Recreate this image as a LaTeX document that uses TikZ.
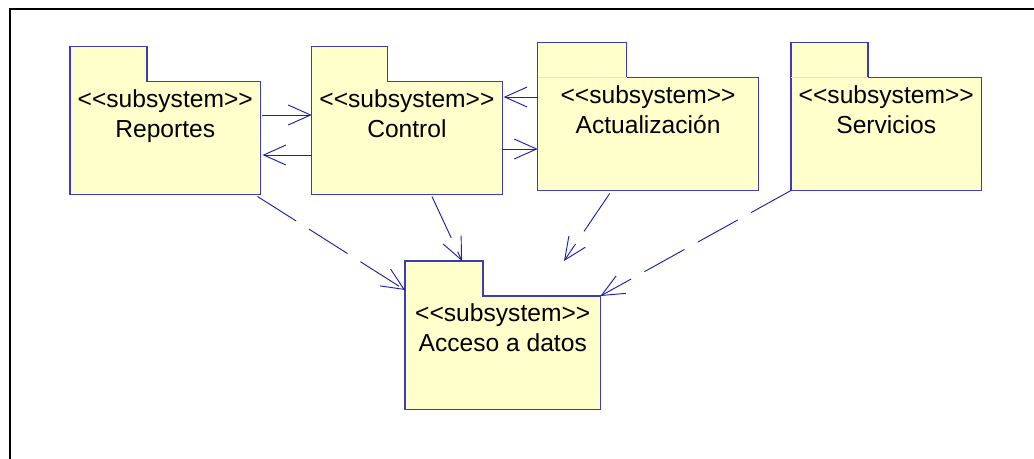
\documentclass[tikz,border=0pt]{standalone}
\usepackage{fontspec}
\setmainfont{Liberation Sans}[Ligatures=TeXOff]
\usetikzlibrary{arrows.meta}

\definecolor{pkgfill}{RGB}{255,255,204}
\definecolor{pkgline}{RGB}{60,60,180}
\definecolor{arrline}{RGB}{30,30,170}

\begin{document}
\begin{tikzpicture}[x=0.03cm, y=-0.03cm,
  body/.style={anchor=north west, inner sep=0pt, fill=pkgfill,
    minimum height=112.3*\pu},
  pkgborder/.style={draw=pkgline, line width=1pt, line join=miter},
  pkgtext/.style={anchor=north, align=center, inner sep=0pt,
    font=\fontsize{21}{25.5}\selectfont},
  uses/.style={draw=arrline, line width=0.8pt,
    -{Straight Barb[length=19pt, width=17pt]}},
  depends/.style={uses, dash pattern=on 39pt off 13pt}]
  % Parameters
  \def\pu{0.03cm}

  \useasboundingbox (0,0) rectangle (1034,459);

  % Frame (top and left edges only)
  \draw[line width=1.7pt] (10,459) -- (10,9) -- (1034,9);

  % Package bodies
  \node[body, minimum width=190*\pu] (rep) at (70,81.7) {};
  \node[body, minimum width=190*\pu] (ctl) at (311.7,81.7) {};
  \node[body, minimum width=220.3*\pu] (act) at (537.7,77.7) {};
  \node[body, minimum width=190*\pu] (srv) at (791,77.7) {};
  \node[body, minimum width=195*\pu, minimum height=113*\pu] (acc) at (405,296) {};

  % Tabs and outlines
  \foreach \n/\w in {rep/77, ctl/76, act/89, srv/77, acc/78} {
    \fill[pkgfill] (\n.north west) rectangle ++(\w,-35);
    \draw[pkgborder] (\n.north west) -- ++(0,-35) -- ++(\w,0) |- (\n.north east)
      -- (\n.south east) -- (\n.south west) -- cycle;
  }
  % faint line under the tab
  \draw[black!12] (act.north west) -- ++(89,0);
  \draw[black!12] (srv.north west) -- ++(77,0);

  % Labels
  \node[pkgtext] (repT) at ([shift={(0,7.5)}]rep.north) {<<subsystem>>\\Reportes};
  \node[pkgtext] (ctlT) at ([shift={(0,7.5)}]ctl.north) {<<subsystem>>\\Control};
  \node[pkgtext] (actT) at ([shift={(0,7.5)}]act.north) {<<subsystem>>\\Actualización};
  \node[pkgtext] (srvT) at ([shift={(0,7.5)}]srv.north) {<<subsystem>>\\Servicios};
  \node[pkgtext] (accT) at ([shift={(0,7.5)}]acc.north) {<<subsystem>>\\Acceso a datos};

  % Solid arrows between the upper packages
  \draw[uses] ([shift={(2,33.3)}]rep.north east) -- ([shift={(0,33.3)}]ctl.north west);
  \draw[uses] ([shift={(0,73.3)}]ctl.north west) -- ([shift={(2,73.3)}]rep.north east);
  \draw[uses] ([shift={(0,19.3)}]act.north west) -- ([shift={(1.5,19.3)}]act.north west -| ctl.east);
  \draw[uses] ([shift={(0,67.3)}]ctl.north east) -- ([shift={(0,67.3)}]ctl.north east -| act.west);

  % Dashed dependencies towards Acceso a datos
  \coordinate (accFree) at (564,261);
  \draw[depends] ([shift={(-3,2)}]rep.south east) -- ([shift={(0,-6)}]acc.north west);
  \draw[depends] ([shift={(25,2)}]ctl.south) -- ([shift={(57,-35)}]acc.north west);
  \draw[depends] ([shift={(72,3)}]act.south west) -- (accFree);
  \draw[depends] (srv.south west) -- (acc.north east);

\end{tikzpicture}
\end{document}
